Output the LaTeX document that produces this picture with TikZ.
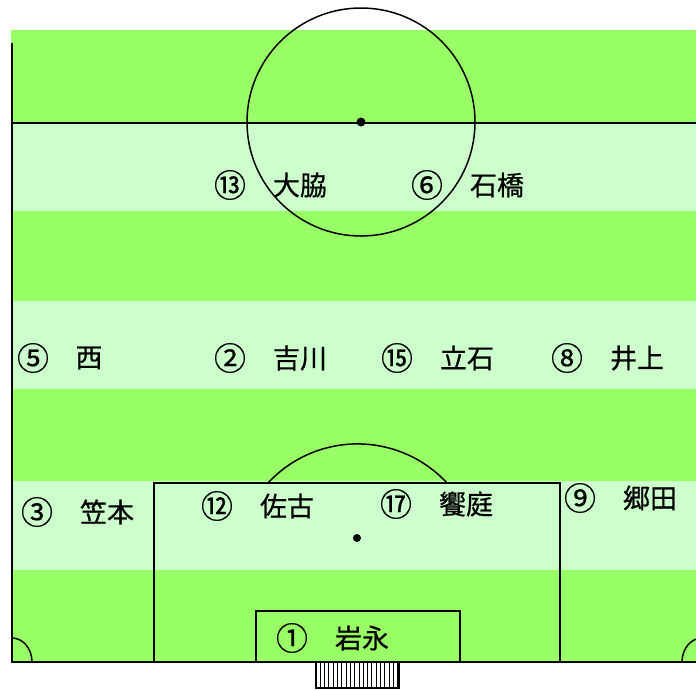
\documentclass[tikz,border=0pt]{standalone}
\usepackage{fontspec}
\newfontfamily\jpfont[FakeBold=0.6]{Noto Sans CJK JP}
\definecolor{turf}{RGB}{153,255,102}
\definecolor{turflight}{RGB}{204,255,204}

\begin{document}
\begin{tikzpicture}[
   x=1pt, y=-1pt,
   line/.style={
     draw=black,
     line width=1.9pt,
    },
   thin line/.style={
     draw=black,
     line width=1.5pt,
    },
   shirt/.style={
     font=\jpfont\fontsize{32}{32}\selectfont,
     inner sep=0pt,
    },
   player/.style={
     font=\jpfont\fontsize{27}{27}\selectfont,
     inner sep=0pt,
    },
  ]

\clip (0,0) rectangle (696,689);
\useasboundingbox (0,0) rectangle (696,689);

\fill[turf] (11,30) rectangle (696,662);
\fill[turflight] (11,123) rectangle (696,211);
\fill[turflight] (11,301) rectangle (696,389);
\fill[turflight] (11,481) rectangle (696,570);

\draw[line] (12,43) -- (12,662) -- (696,662);
\draw[line] (11,123) -- (696,123);
\draw[thin line] (361,122) circle[radius=114];
\fill (361,122) circle[radius=4.5];

\draw[line] (154,662) -- (154,483) -- (560,483) -- (560,662);
\draw[line] (256,662) -- (256,611) -- (460,611) -- (460,662);
\draw[thin line] (268,483) arc[start angle=222.8, end angle=317.2, radius=122];
\fill (357,538) circle[radius=4];

\draw[thin line] (12,638) arc[start angle=270, end angle=360, x radius=20, y radius=24];
\draw[thin line] (682,662) arc[start angle=180, end angle=270, x radius=20, y radius=24];

\begin{scope}[shift={(316,662)}]
\fill[white] (0,0) rectangle (83,26);
\draw[line width=1pt, step=4.3] (0,0) grid (83,26);
\draw[line width=1.6pt] (0,0) rectangle (83,26);
\end{scope}

\node[shirt] (n13) at (230,185) {⑬};
\node[player] (oowaki) at (300,185) {大脇};
\node[shirt] (n6) at (427,185) {⑥};
\node[player] (ishibashi) at (497,185) {石橋};

\node[shirt] (n5) at (33,358) {⑤};
\node[player] (nishi) at (89,358) {西};
\node[shirt] (n2) at (230,358) {②};
\node[player] (yoshikawa) at (300,358) {吉川};
\node[shirt] (n15) at (397,358) {⑮};
\node[player] (tateishi) at (467,358) {立石};
\node[shirt] (n8) at (567,358) {⑧};
\node[player] (inoue) at (637,358) {井上};

\node[shirt] (n3) at (37,512) {③};
\node[player] (kasamoto) at (107,512) {笠本};
\node[shirt] (n12) at (217,506) {⑫};
\node[player] (sako) at (287,506) {佐古};
\node[shirt] (n17) at (396,504) {⑰};
\node[player] (aiba) at (466,504) {饗庭};
\node[shirt] (n9) at (580,498) {⑨};
\node[player] (gouda) at (650,498) {郷田};

\node[shirt] (n1) at (292,638) {①};
\node[player] (iwanaga) at (362,638) {岩永};
\end{tikzpicture}
\end{document}
